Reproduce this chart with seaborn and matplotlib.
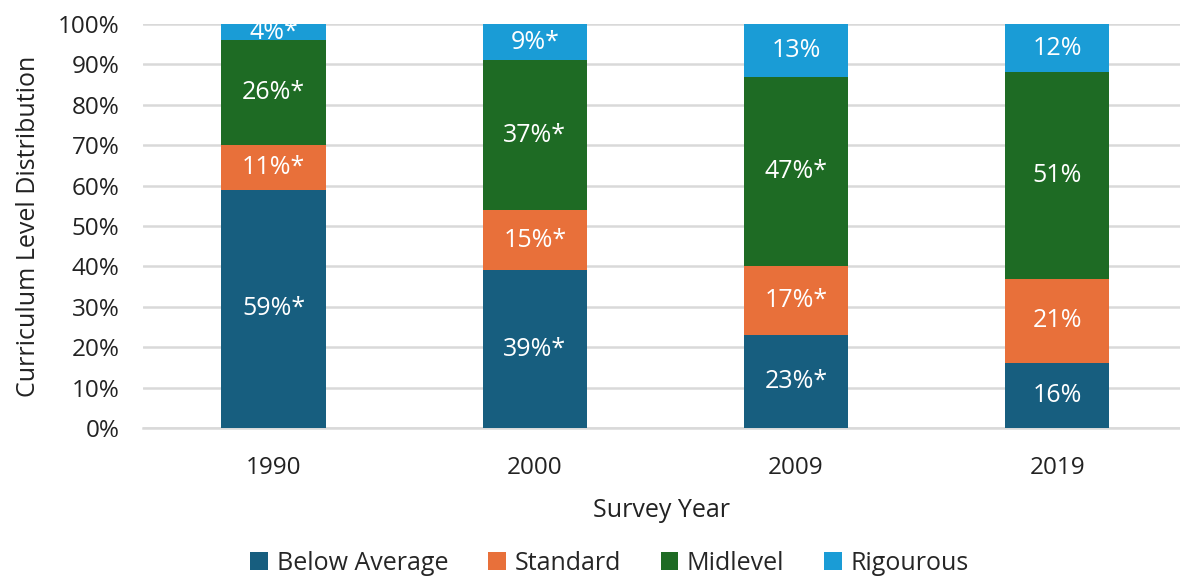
import numpy as np
import pandas as pd
import matplotlib
matplotlib.use("Agg")
import matplotlib.pyplot as plt
import seaborn as sns

years = ["1990", "2000", "2009", "2019"]
levels = ["Below Average", "Standard", "Midlevel", "Rigourous"]
below_average = [59, 39, 23, 16]
standard = [11, 15, 17, 21]
midlevel = [26, 37, 47, 51]
rigourous = [4, 9, 13, 12]
# significance markers shown next to each value
below_average_sig = [True, True, True, False]
standard_sig = [True, True, True, False]
midlevel_sig = [True, True, True, False]
rigourous_sig = [True, True, False, False]

colors = ["#175E7F", "#E8703A", "#1E6B24", "#1A9CD6"]

sns.set_theme(style="white")
plt.rcParams["font.family"] = ["Open Sans", "DejaVu Sans"]

series = [below_average, standard, midlevel, rigourous]
sigs = [below_average_sig, standard_sig, midlevel_sig, rigourous_sig]

fig = plt.figure(figsize=(11.8, 5.77), dpi=100)
ax = fig.add_axes([143 / 1180, 1 - 428 / 577, 1 - 143 / 1180, (428 - 24) / 577])

bottom = np.zeros(len(years))
for name, vals, sig, col in zip(levels, series, sigs, colors):
    df = pd.DataFrame({"year": years, "value": vals})
    sns.barplot(data=df, x="year", y="value", color=col, width=0.4,
                bottom=bottom, ax=ax, label=name, saturation=1, zorder=3,
                edgecolor=col, linewidth=0)
    for i, (v, s) in enumerate(zip(vals, sig)):
        ax.text(i, bottom[i] + v / 2, f"{v}%" + ("*" if s else ""),
                ha="center", va="center", color="white", fontsize=18,
                clip_on=True, zorder=4)
    bottom = bottom + np.array(vals)

ax.set_ylim(0, 100)
ax.set_xlim(-0.5, 3.47)
ax.set_yticks(np.arange(0, 101, 10))
ax.set_yticklabels([f"{t}%" for t in range(0, 101, 10)], fontsize=17.5, color="#222222")
ax.tick_params(axis="x", labelsize=17.5, colors="#222222", pad=20, length=0)
ax.tick_params(axis="y", length=0, pad=17)
ax.grid(axis="y", color="#D9D9D9", linewidth=1.8, zorder=0)
ax.set_axisbelow(True)
for side in ["top", "right", "left"]:
    ax.spines[side].set_visible(False)
ax.spines["bottom"].set_color("#D9D9D9")
ax.spines["bottom"].set_linewidth(1.8)

ax.set_xlabel("Survey Year", fontsize=18, color="#222222", labelpad=13)
ax.set_ylabel("Curriculum Level Distribution", fontsize=18, color="#222222", labelpad=12)

handles, labels = ax.get_legend_handles_labels()
ax.legend(handles, labels, loc="center", bbox_to_anchor=(0.450, -0.335),
          ncol=4, frameon=False, fontsize=18, handlelength=0.7, handleheight=0.7,
          columnspacing=1.6, handletextpad=0.35)

fig.savefig("out.png", dpi=100)
